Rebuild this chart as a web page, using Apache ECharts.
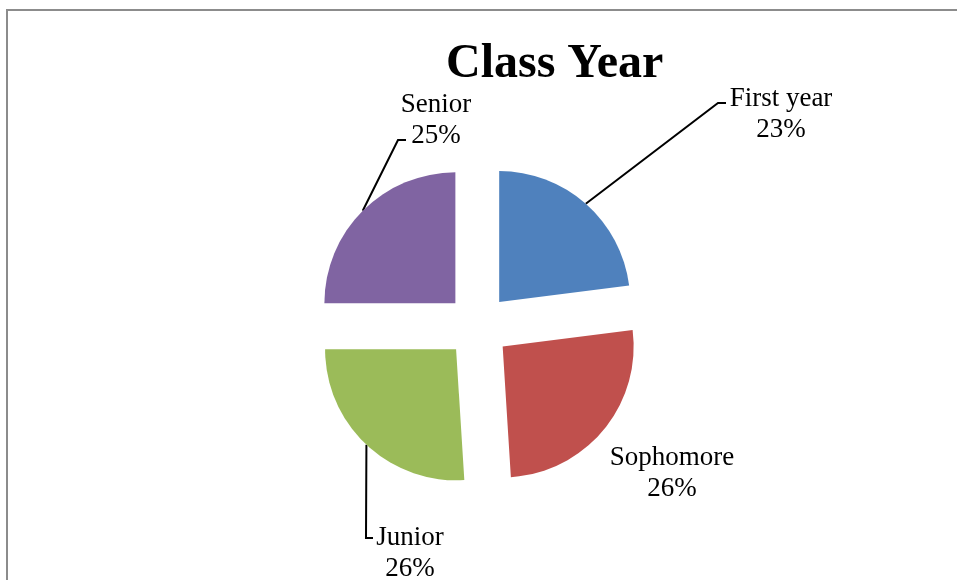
<!DOCTYPE html>
<html>
<head>
<meta charset="utf-8">
<script src="https://cdn.jsdelivr.net/npm/echarts@6/dist/echarts.min.js"></script>
<style>
html,body{margin:0;padding:0;background:#fff;}
#chart{width:957px;height:580px;}
</style>
</head>
<body>
<div id="chart"></div>
<script>
var categories = ['First year', 'Sophomore', 'Junior', 'Senior'];
var values = [23, 26, 26, 25];
var colors = ['#4F81BD', '#C0504D', '#9BBB59', '#8064A2'];

// label placement (text centre) and leader-line bend, in pixels
var labelSpots = [
  {x: 781, y: 114, bend: [718, 103], end: [726, 103]},
  {x: 672, y: 473, bend: null},
  {x: 410, y: 553, bend: [366, 538], end: [373, 538]},
  {x: 436, y: 120, bend: [398, 140], end: [406, 140]}
];

var chart = echarts.init(document.getElementById('chart'));
var pieCenter = [478, 326];
var pieRadius = 131;
var explode = 32;

var total = values.reduce(function (a, b) { return a + b; }, 0);
function midAngle(i) {
  var before = 0;
  for (var k = 0; k < i; k++) before += values[k];
  return (90 - (before + values[i] / 2) / total * 360) * Math.PI / 180;
}

// one pie series per slice, each shifted outward along its bisector (exploded pie)
var series = categories.map(function (c, i) {
  var a = midAngle(i);
  var cx = pieCenter[0] + explode * Math.cos(a);
  var cy = pieCenter[1] - explode * Math.sin(a);
  return {
    type: 'pie',
    center: [cx, cy],
    radius: pieRadius,
    startAngle: 90,
    clockwise: true,
    silent: true,
    emphasis: {disabled: true},
    itemStyle: {borderWidth: 0},
    label: {
      show: true,
      position: 'outside',
      formatter: '{b}\n{d}%',
      fontFamily: 'Liberation Serif',
      fontSize: 27,
      lineHeight: 31,
      color: '#000',
      align: 'center'
    },
    labelLine: {show: true, lineStyle: {color: '#000', width: 2}},
    labelLayout: function (params) {
      var s = labelSpots[params.dataIndex];
      var out = {x: s.x, y: s.y, align: 'center', verticalAlign: 'middle'};
      if (s.bend) {
        var r = pieRadius;
        var start = [cx + r * Math.cos(a), cy - r * Math.sin(a)];
        out.labelLinePoints = [start, s.bend, s.end];
      }
      return out;
    },
    data: categories.map(function (n, j) {
      var own = (i === j);
      return {
        name: n,
        value: values[j],
        itemStyle: {color: own ? colors[j] : 'rgba(0,0,0,0)'},
        label: {show: own},
        labelLine: {show: own && labelSpots[j].bend !== null}
      };
    })
  };
});

chart.setOption({
  animation: false,
  backgroundColor: '#ffffff',
  title: {
    text: 'Class Year',
    left: 441,
    top: 36,
    textStyle: {fontFamily: 'Liberation Serif', fontWeight: 'bold', fontSize: 48, color: '#000'}
  },
  graphic: [{
    type: 'polyline',
    silent: true,
    shape: {points: [[7, 580], [7, 10], [957, 10]]},
    style: {stroke: '#8c8c8c', lineWidth: 2, fill: null}
  }],
  series: series
});
</script>
</body>
</html>
